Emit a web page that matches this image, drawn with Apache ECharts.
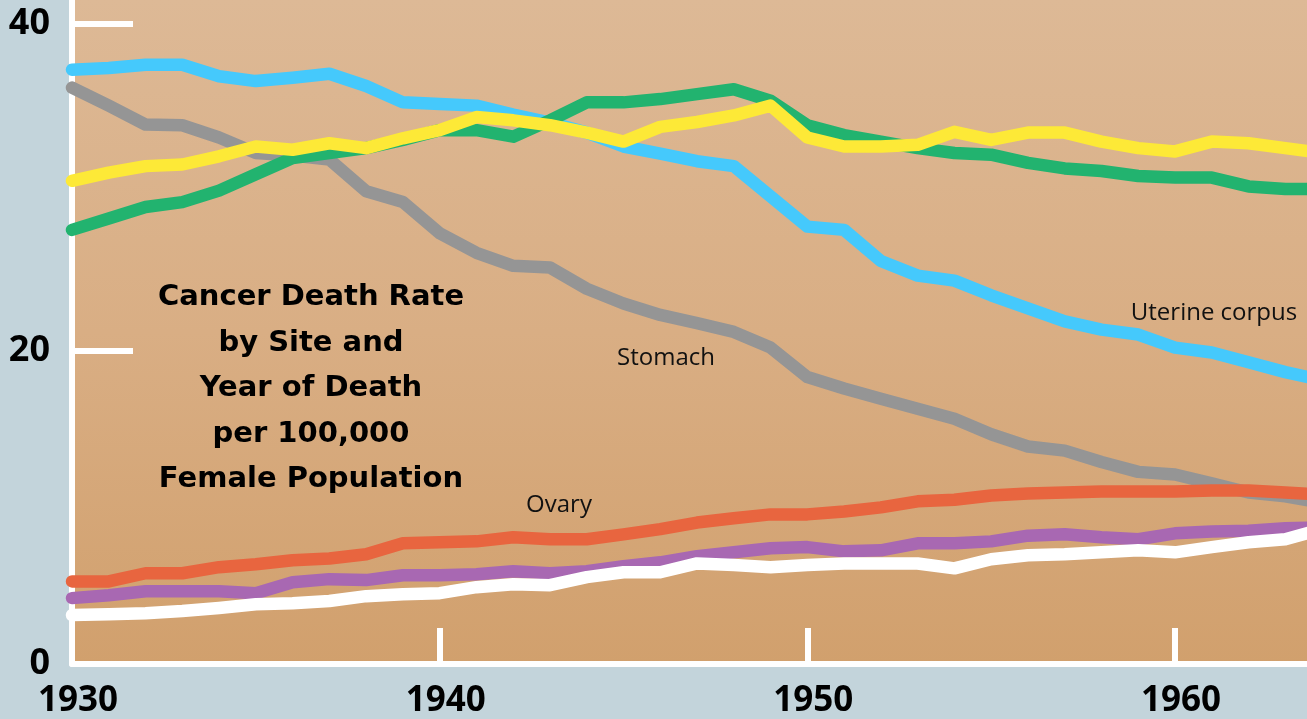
<!DOCTYPE html>
<html lang="en">
<head>
<meta charset="UTF-8">
<title>Cancer Death Rate by Site</title>
<script src="https://cdn.jsdelivr.net/npm/echarts@6/dist/echarts.min.js"></script>
<style>
    html, body { margin: 0; padding: 0; background: #c3d4db; }
    #main { width: 1307px; height: 719px; }
</style>
</head>
<body>
<div id="main"></div>
<script>
    // year of death
    var years = [1930, 1931, 1932, 1933, 1934, 1935, 1936, 1937, 1938, 1939,
        1940, 1941, 1942, 1943, 1944, 1945, 1946, 1947, 1948, 1949,
        1950, 1951, 1952, 1953, 1954, 1955, 1956, 1957, 1958, 1959,
        1960, 1961, 1962, 1963, 1964];

    // rates per 100,000 female population
    var stomach = [36.1, 35.0, 33.84, 33.8, 33.05, 32.1, 31.95, 31.7, 29.76, 29.1,
        27.2, 26.0, 25.2, 25.1, 23.8, 22.9, 22.2, 21.7, 21.16, 20.2,
        18.4, 17.7, 17.07, 16.46, 15.85, 14.9, 14.15, 13.9, 13.2, 12.6,
        12.44, 11.9, 11.34, 11.1, 10.7];
    var uterineCorpus = [37.2, 37.3, 37.5, 37.5, 36.8, 36.5, 36.7, 36.95, 36.2, 35.2,
        35.1, 35.0, 34.45, 33.96, 33.35, 32.5, 32.07, 31.6, 31.3, 29.45,
        27.6, 27.4, 25.5, 24.6, 24.3, 23.4, 22.6, 21.8, 21.3, 21.0,
        20.2, 19.9, 19.3, 18.7, 18.2];
    var greenSite = [27.4, 28.1, 28.8, 29.1, 29.8, 30.8, 31.8, 32.1, 32.4, 32.9,
        33.5, 33.5, 33.1, 34.1, 35.2, 35.2, 35.4, 35.7, 36.0, 35.3,
        33.8, 33.2, 32.8, 32.4, 32.1, 32.0, 31.5, 31.16, 31.0, 30.7,
        30.6, 30.6, 30.06, 29.9, 29.9];
    var yellowSite = [30.4, 30.9, 31.3, 31.4, 31.9, 32.5, 32.3, 32.7, 32.4, 33.0,
        33.5, 34.3, 34.1, 33.8, 33.35, 32.8, 33.7, 34.0, 34.4, 35.0,
        33.05, 32.5, 32.5, 32.6, 33.4, 32.9, 33.35, 33.35, 32.8, 32.4,
        32.2, 32.8, 32.7, 32.4, 32.1];
    var purpleSite = [4.88, 5.06, 5.3, 5.3, 5.3, 5.18, 5.85, 6.04, 5.98, 6.28,
        6.28, 6.34, 6.52, 6.4, 6.52, 6.83, 7.07, 7.44, 7.68, 7.93,
        8.0, 7.74, 7.8, 8.23, 8.23, 8.35, 8.7, 8.78, 8.6, 8.48,
        8.84, 8.96, 9.0, 9.15, 9.2];
    var ovary = [5.9, 5.9, 6.4, 6.4, 6.77, 6.95, 7.2, 7.3, 7.56, 8.23,
        8.3, 8.35, 8.6, 8.48, 8.48, 8.78, 9.1, 9.5, 9.76, 10.0,
        10.0, 10.18, 10.43, 10.8, 10.9, 11.16, 11.28, 11.34, 11.4, 11.4,
        11.4, 11.46, 11.46, 11.34, 11.2];
    var whiteSite = [3.84, 3.9, 3.96, 4.09, 4.27, 4.5, 4.57, 4.7, 5.0, 5.12,
        5.18, 5.55, 5.73, 5.67, 6.16, 6.46, 6.46, 7.0, 6.9, 6.77,
        6.9, 7.0, 7.0, 7.0, 6.7, 7.26, 7.5, 7.56, 7.68, 7.8,
        7.68, 8.0, 8.3, 8.48, 9.1];

    var xLabels = [1930, 1940, 1950, 1960];
    var yLabels = [0, 20, 40];

    var myChart = echarts.init(document.getElementById('main'));

    function line(name, data, color) {
        return {
            name: name,
            type: 'line',
            data: years.map((y, i) => [y, data[i]]),
            symbol: 'none',
            lineStyle: { color: color, width: 12.5, cap: 'round', join: 'round' },
            itemStyle: { color: color },
            emphasis: { disabled: true }
        };
    }

    var labelFont = 'Open Sans';
    var yMin = 0.85;

    function note(text, x, y) {
        return {
            type: 'text', x: x, y: y,
            style: {
                text: text, fill: '#111', font: '24px "Open Sans"',
                textAlign: 'center', textVerticalAlign: 'middle', align: 'center', verticalAlign: 'middle'
            }
        };
    }

    var option = {
        animation: false,
        backgroundColor: '#c3d4db',
        title: {
            text: 'Cancer Death Rate\nby Site and\nYear of Death\nper 100,000\nFemale Population',
            left: 306,
            top: 270,
            textAlign: 'center',
            textStyle: { fontFamily: 'DejaVu Sans', fontWeight: 'bold', fontSize: 29, lineHeight: 45.5, color: '#000' }
        },
        grid: {
            left: 72, right: 0, top: 0, bottom: 53,
            show: true, borderWidth: 0,
            backgroundColor: {
                type: 'linear', x: 0, y: 0, x2: 0, y2: 1,
                colorStops: [
                    { offset: 0, color: '#ddb996' },
                    { offset: 0.5, color: '#d9ae84' },
                    { offset: 1, color: '#d1a06d' }
                ]
            }
        },
        xAxis: {
            type: 'value',
            min: 1930,
            max: 1963.59,
            axisLine: { show: true, lineStyle: { color: '#fff', width: 6 } },
            axisTick: { show: true, inside: true, length: 36, customValues: [1940, 1950, 1960], lineStyle: { color: '#fff', width: 6 } },
            axisLabel: {
                customValues: xLabels, margin: 20, padding: [0, 0, 0, 12],
                formatter: v => String(v),
                fontFamily: labelFont, fontWeight: 'bold', fontSize: 35, color: '#000'
            },
            splitLine: { show: false }
        },
        yAxis: {
            type: 'value',
            min: yMin,
            max: 41.46,
            axisLine: { show: true, lineStyle: { color: '#fff', width: 6 } },
            axisTick: { show: true, inside: true, length: 61, customValues: [20, 40], lineStyle: { color: '#fff', width: 6 } },
            axisLabel: {
                customValues: yLabels.map(v => Math.max(v, yMin)),
                formatter: v => String(Math.floor(v)),
                margin: 22,
                fontFamily: labelFont, fontWeight: 'bold', fontSize: 36, color: '#000'
            },
            splitLine: { show: false }
        },
        graphic: [
            note('Stomach', 666, 358),
            note('Uterine corpus', 1214, 313),
            note('Ovary', 559, 505)
        ],
        series: [
            line('Stomach', stomach, '#959595'),
            line('Uterine corpus', uterineCorpus, '#45c9fc'),
            line('Green', greenSite, '#22b36f'),
            line('Yellow', yellowSite, '#fde937'),
            line('Purple', purpleSite, '#a868b2'),
            line('Ovary', ovary, '#e8653f'),
            line('White', whiteSite, '#ffffff')
        ]
    };
    myChart.setOption(option);
</script>
</body>
</html>
